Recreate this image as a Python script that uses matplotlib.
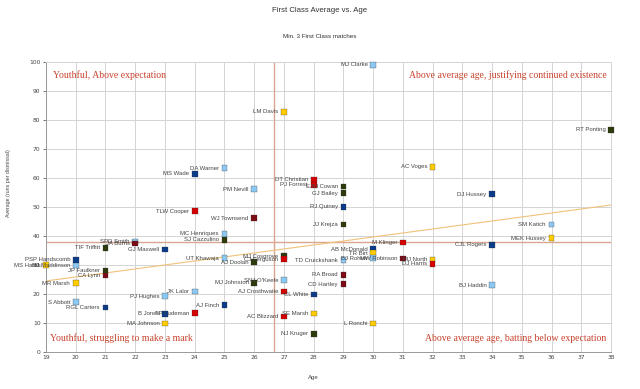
import matplotlib
matplotlib.use("Agg")
import matplotlib.pyplot as plt

# player, age, first class average, state side
names = ["MJ Clarke", "LM Davis", "RT Ponting", "AC Voges", "DA Warner", "MS Wade",
         "DT Christian", "PJ Forrest", "EJM Cowan", "GJ Bailey", "DJ Hussey", "PM Nevill",
         "RJ Quiney", "TLW Cooper", "WJ Townsend", "JJ Krejza", "SM Katich", "MEK Hussey",
         "MC Henriques", "SJ Cazzulino", "SPD Smith", "JA Burns", "M Klinger", "CJL Rogers",
         "TIF Triffitt", "GJ Maxwell", "AB McDonald", "TR Birt", "PSP Handscomb", "UT Khawaja",
         "MJ Cosgrove", "CJ Ferguson", "AJ Doolan", "TD Cruickshank", "BJ Rohrer", "MW Robinson",
         "MJ North", "DJ Harris", "NJ Maddinson", "MS Harris", "JP Faulkner", "CA Lynn",
         "MR Marsh", "MJ Johnston", "SNJ O'Keefe", "RA Broad", "CD Hartley", "AJ Crosthwaite",
         "CL White", "BJ Haddin", "JK Lalor", "PJ Hughes", "S Abbott", "RGL Carters",
         "AJ Finch", "TP Ludeman", "B Jones", "MA Johnson", "SE Marsh", "AC Blizzard",
         "L Ronchi", "NJ Kruger"]
ages = [30, 27, 38, 32, 25, 24,
        28, 28, 29, 29, 34, 26,
        29, 24, 26, 29, 36, 36,
        25, 25, 22, 22, 31, 34,
        21, 23, 30, 30, 20, 25,
        27, 27, 26, 29, 30, 31,
        32, 32, 20, 19, 21, 21,
        20, 26, 27, 29, 29, 27,
        28, 34, 24, 23, 20, 21,
        25, 24, 23, 23, 28, 27,
        30, 28]
averages = [99.0, 82.8, 76.6, 63.8, 63.4, 61.4,
            59.5, 57.6, 57.1, 54.8, 54.4, 56.2,
            50.1, 48.5, 46.1, 44.0, 44.0, 39.3,
            40.8, 38.7, 38.1, 37.4, 37.8, 37.0,
            35.9, 35.3, 35.4, 34.1, 31.8, 32.4,
            33.1, 32.0, 31.0, 31.7, 32.3, 32.2,
            31.9, 30.4, 29.8, 30.0, 28.0, 26.4,
            23.7, 23.9, 24.8, 26.6, 23.4, 20.9,
            19.8, 23.1, 20.9, 19.3, 17.2, 15.3,
            16.1, 13.4, 13.2, 9.8, 13.3, 12.2,
            9.8, 6.3]
teams = ["NSW", "WA", "TAS", "WA", "NSW", "VIC",
         "SA", "SA", "TAS", "TAS", "VIC", "NSW",
         "VIC", "SA", "QLD", "TAS", "NSW", "WA",
         "NSW", "TAS", "NSW", "QLD", "SA", "VIC",
         "TAS", "VIC", "VIC", "WA", "VIC", "NSW",
         "TAS", "SA", "TAS", "NSW", "NSW", "QLD",
         "WA", "SA", "NSW", "WA", "TAS", "QLD",
         "WA", "TAS", "NSW", "QLD", "QLD", "SA",
         "VIC", "NSW", "NSW", "NSW", "NSW", "VIC",
         "VIC", "SA", "VIC", "WA", "WA", "SA",
         "WA", "TAS"]

team_colours = {"NSW": "#8cc8f2", "VIC": "#0b3c8a", "SA": "#d60000",
                "QLD": "#7d0b16", "WA": "#ffcc00", "TAS": "#2c3a0c"}

mean_age = 26.67
mean_average = 38.0
trend_x = [19, 38]
trend_y = [24.5, 50.7]

age_ticks = list(range(19, 39))
avg_ticks = list(range(0, 101, 10))

fig = plt.figure(figsize=(6.4, 3.89), dpi=100)
ax = fig.add_axes([0.0719, 0.0951, 0.8828, 0.7455])

ax.set_xlim(19, 38)
ax.set_ylim(0, 100)
ax.set_xticks(age_ticks)
ax.set_yticks(avg_ticks)
ax.tick_params(labelsize=4.3, colors="#444444", length=2, width=0.5, pad=2)
ax.tick_params(axis="x", length=0)
ax.grid(True, color="#d4d4d4", lw=0.7)
ax.set_axisbelow(True)
for side in ax.spines:
    ax.spines[side].set_color("#d4d4d4")
    ax.spines[side].set_linewidth(0.7)
ax.spines["left"].set_color("#999999")
ax.spines["bottom"].set_color("#999999")

ax.axvline(mean_age, color="#dba68e", lw=1.0, zorder=2)
ax.axhline(mean_average, color="#dba68e", lw=1.0, zorder=2)
ax.plot(trend_x, trend_y, color="#f0c27a", lw=0.8, zorder=2)

cols = [team_colours[t] for t in teams]
ax.scatter(ages, averages, marker="s", s=17, c=cols, edgecolors="#333333",
           linewidths=0.2, zorder=4, clip_on=False)
for n, a, v in zip(names, ages, averages):
    ax.annotate(n, (a, v), xytext=(-4, 0), textcoords="offset points",
                ha="right", va="center", fontsize=4.3, color="#444444",
                family="Liberation Sans", zorder=5, annotation_clip=False)

qcol = "#c8412c"
qfont = dict(family="Liberation Serif", fontsize=7, color=qcol)
ax.text(19.25, 97, "Youthful, Above expectation", ha="left", va="top", **qfont)
ax.text(37.85, 97, "Above average age, justifying continued existence", ha="right", va="top", **qfont)
ax.text(19.15, 3, "Youthful, struggling to make a mark", ha="left", va="bottom", **qfont)
ax.text(37.85, 3, "Above average age, batting below expectation", ha="right", va="bottom", **qfont)

fig.text(0.5, 0.972, "First Class Average vs. Age", ha="center", va="center",
         fontsize=5.6, color="#333333", family="Liberation Sans")
fig.text(0.5, 0.905, "Min. 3 First Class matches", ha="center", va="center",
         fontsize=4.5, color="#333333", family="Liberation Sans")
fig.text(0.49, 0.03, "Age", ha="center", va="center", fontsize=4.3,
         color="#444444", family="Liberation Sans")
fig.text(0.013, 0.53, "Average (runs per dismissal)", ha="center", va="center",
         rotation=90, fontsize=3.8, color="#444444", family="Liberation Sans")

fig.savefig("out.png", dpi=100, facecolor="white")
